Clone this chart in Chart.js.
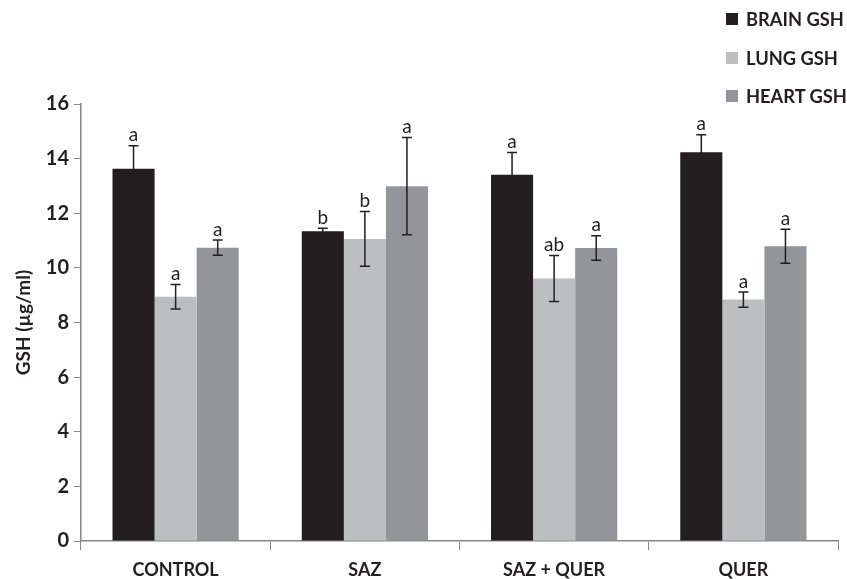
<!DOCTYPE html>
<html lang="en">
<head>
  <meta charset="UTF-8"/>
  <title>GSH levels</title>
  <script src="https://cdn.jsdelivr.net/npm/chart.js"></script>
  <style>
    body {
      margin: 0;
      background: #fff;
      font-family: 'Lato', sans-serif;
    }

    .wrap {
      position: relative;
      width: 847px;
      height: 579px;
    }

    .legend {
      position: absolute;
      left: 726px;
      top: 0px;
      color: #231f20;
      font-weight: bold;
      font-size: 18.3px;
      white-space: nowrap;
    }

    .legend div {
      height: 38.5px;
      display: flex;
      align-items: center;
    }

    .legend span.box {
      display: inline-block;
      width: 12px;
      height: 12px;
      margin-right: 8px;
    }
  </style>
</head>
<body>
  <div class="wrap">
    <canvas id="gshChart" width="847" height="579"></canvas>
    <div class="legend" id="legend"></div>
  </div>

  <script>
    const groups = ["CONTROL", "SAZ", "SAZ + QUER", "QUER"];
    const seriesNames = ["BRAIN GSH", "LUNG GSH", "HEART GSH"];
    const seriesColors = ["#231f20", "#bcbec0", "#939598"];

    const brain = [13.63, 11.34, 13.41, 14.23];
    const lung = [8.94, 11.06, 9.61, 8.84];
    const heart = [10.74, 12.99, 10.73, 10.79];

    const brainErr = [0.84, 0.11, 0.81, 0.64];
    const lungErr = [0.45, 1.0, 0.84, 0.28];
    const heartErr = [0.28, 1.78, 0.45, 0.62];

    const brainLetters = ["a", "b", "a", "a"];
    const lungLetters = ["a", "b", "ab", "a"];
    const heartLetters = ["a", "a", "a", "a"];

    const yTicks = [0, 2, 4, 6, 8, 10, 12, 14, 16];

    const values = [brain, lung, heart];
    const errors = [brainErr, lungErr, heartErr];
    const letters = [brainLetters, lungLetters, heartLetters];

    // legend as html, vertical like the original
    const legendEl = document.getElementById('legend');
    seriesNames.forEach((name, i) => {
      const row = document.createElement('div');
      row.innerHTML = '<span class="box" style="background:' + seriesColors[i] + '"></span>' + name;
      legendEl.appendChild(row);
    });

    const errorBars = {
      id: 'errorBars',
      afterDatasetsDraw(chart) {
        const ctx = chart.ctx;
        const y = chart.scales.y;
        ctx.save();
        ctx.strokeStyle = '#231f20';
        ctx.lineWidth = 1.5;
        ctx.fillStyle = '#231f20';
        ctx.font = '19px Lato';
        ctx.textAlign = 'center';
        ctx.textBaseline = 'bottom';
        chart.data.datasets.forEach((ds, i) => {
          const meta = chart.getDatasetMeta(i);
          meta.data.forEach((bar, j) => {
            const v = ds.data[j];
            const e = errors[i][j];
            const top = y.getPixelForValue(v + e);
            const bot = y.getPixelForValue(v - e);
            ctx.beginPath();
            ctx.moveTo(bar.x, top);
            ctx.lineTo(bar.x, bot);
            ctx.moveTo(bar.x - 5, top);
            ctx.lineTo(bar.x + 5, top);
            ctx.moveTo(bar.x - 5, bot);
            ctx.lineTo(bar.x + 5, bot);
            ctx.stroke();
            ctx.fillText(letters[i][j], bar.x, top - 1);
          });
        });
        ctx.restore();
      }
    };

    new Chart(document.getElementById('gshChart'), {
      type: 'bar',
      data: {
        labels: groups,
        datasets: seriesNames.map((name, i) => ({
          label: name,
          data: values[i],
          backgroundColor: seriesColors[i],
          borderWidth: 0,
          barPercentage: 1,
          categoryPercentage: 0.667
        }))
      },
      options: {
        responsive: false,
        animation: false,
        layout: {
          padding: { top: 104, right: 9, left: 12, bottom: -11 }
        },
        plugins: {
          legend: { display: false },
          tooltip: { enabled: false }
        },
        scales: {
          x: {
            grid: {
              offset: true,
              drawOnChartArea: false,
              drawTicks: true,
              tickLength: 9,
              color: '#888'
            },
            border: { color: '#888', width: 1.5 },
            ticks: {
              color: '#231f20',
              font: { family: 'Lato', size: 18, weight: 'bold', lineHeight: 1 },
              padding: 11
            }
          },
          y: {
            min: 0,
            max: 16,
            afterBuildTicks: axis => {
              axis.ticks = yTicks.map(v => ({ value: v }));
            },
            grid: {
              drawOnChartArea: false,
              drawTicks: true,
              tickLength: 7,
              color: '#888'
            },
            border: { color: '#888', width: 1.5 },
            ticks: {
              color: '#231f20',
              font: { family: 'Lato', size: 20, weight: 'bold' },
              padding: 5
            },
            title: {
              display: true,
              text: 'GSH (µg/ml)',
              color: '#231f20',
              font: { family: 'Lato', size: 19, weight: 'bold' },
              padding: { top: 0, bottom: 6 }
            }
          }
        }
      },
      plugins: [errorBars]
    });
  </script>
</body>
</html>
